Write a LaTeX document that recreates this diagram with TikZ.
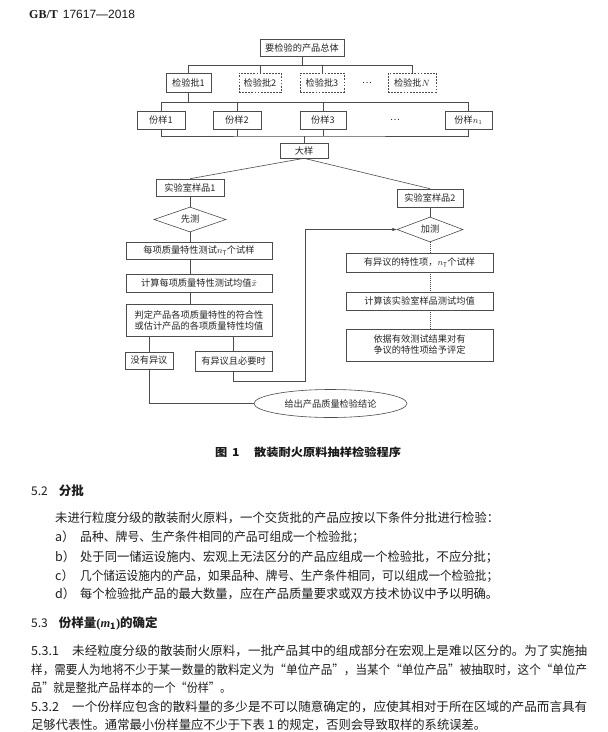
\documentclass[tikz,border=0pt]{standalone}
\usepackage{fontspec}
\usepackage{graphicx}
\setmainfont{Noto Sans CJK SC}
\newfontfamily\latinsans{Liberation Sans}
\newfontfamily\latinserif{Liberation Serif}
\usetikzlibrary{shapes.geometric,arrows.meta}
\newcommand\diagfont{\fontsize{9.2pt}{11pt}\selectfont}
\newcommand\bodyfont{\fontsize{12.5pt}{15pt}\selectfont}
\newcommand\bodyline[5]{\node[bodytext] (#1) at (#2,#3) {\resizebox{#4pt}{\height}{#5}};}
\begin{document}
\begin{tikzpicture}[x=1pt,y=-1pt,
  box/.style={draw=black!70, line width=0.6pt, fill=white, inner sep=0pt, font=\diagfont, text=black!85},
  dbox/.style={box, dash pattern=on 1.8pt off 1.3pt},
  dia/.style={box, diamond, aspect=2.7},
  ell/.style={box, ellipse},
  plain/.style={inner sep=0pt, font=\diagfont, text=black!85},
  conn/.style={draw=black!70, line width=0.6pt},
  dotconn/.style={conn, dash pattern=on 1pt off 1pt},
  arr/.style={-{Stealth[length=5pt,width=3.4pt]}},
  bodytext/.style={anchor=west, inner sep=0pt, font=\bodyfont, text=black!88},
]
\useasboundingbox (0,0) rectangle (608,732);
\fill[white] (0,0) rectangle (608,732);

% header
\node[anchor=west, inner sep=0pt, font=\fontsize{12pt}{14pt}\selectfont, text=black!90] (hdr) at (29,14.5)
  {{\latinserif\bfseries GB/T}\hspace{5pt}{\latinsans 17617—2018}};

% top level
\node[box, minimum width=84pt, minimum height=17pt] (top) at (302,47.5) {要检验的产品总体};
\node[box, minimum width=45pt, minimum height=19pt] (lot1) at (188.5,82.5) {检验批1};
\node[dbox, minimum width=42pt, minimum height=19pt] (lot2) at (260,82.5) {检验批2};
\node[dbox, minimum width=44pt, minimum height=19pt] (lot3) at (322,82.5) {检验批3};
\node[plain] (lotdots) at (367,82.5) {…};
\node[dbox, minimum width=48pt, minimum height=19pt] (lotN) at (412,82.5) {检验批$N$};

\draw[conn] (top.south) -- ++(0,8.5) coordinate (b1);
\draw[conn] (lot1.north) |- (b1) -| (lotN.north);
\draw[conn] (lot2.north) -- (lot2.north |- b1);
\draw[conn] (lot3.north) -- (lot3.north |- b1);

% samples
\node[box, minimum width=48pt, minimum height=18pt] (s1) at (161,120) {份样1};
\node[box, minimum width=48pt, minimum height=18pt] (s2) at (237,120) {份样2};
\node[box, minimum width=46pt, minimum height=18pt] (s3) at (323,120) {份样3};
\node[plain] (sdots) at (395,120) {…};
\node[box, minimum width=47pt, minimum height=18pt] (sn) at (468.5,120) {份样$n_1$};

\draw[conn] (lot1.south) -- ++(0,10) coordinate (b2);
\draw[conn] (s1.north) |- (b2) -| (sn.north);
\draw[conn] (s2.north) -- (s2.north |- b2);
\draw[conn] (s3.north) -- (s3.north |- b2);

\node[box, minimum width=48pt, minimum height=15pt] (big) at (304,150.5) {大样};
\coordinate (b3) at (304,136);
\draw[conn] (s1.south) |- (b3) -| (sn.south);
\draw[conn] (s2.south) -- (s2.south |- b3);
\draw[conn] (s3.south) -- (s3.south |- b3);
\draw[conn] (b3) -- (big.north);

% laboratory samples
\node[box, minimum width=68pt, minimum height=17pt] (lab1) at (190,187.5) {实验室样品1};
\node[box, minimum width=66pt, minimum height=18pt] (lab2) at (430,198) {实验室样品2};
\draw[conn] (big.south) -- (lab1.north);
\draw[conn] (big.south) -- (lab2.north);

\node[dia, minimum width=72pt, minimum height=25pt] (q1) at (190,219.5) {先测};
\node[dia, minimum width=66pt, minimum height=25pt] (q2) at (430,229.5) {加测};
\draw[conn] (lab1.south) -- (q1.north);
\draw[conn] (lab2.south) -- (q2.north);

% left column
\node[box, minimum width=146pt, minimum height=17pt] (L1) at (199,250.5) {每项质量特性测试$n_{\mathrm{T}}$个试样};
\node[box, minimum width=146pt, minimum height=18pt] (L2) at (199,283) {计算每项质量特性测试均值$\bar{x}$};
\node[box, minimum width=146pt, minimum height=32pt, align=center] (L3) at (199,320)
  {判定产品各项质量特性的符合性\\或估计产品的各项质量特性均值};
\draw[conn] (q1.south) -- (q1.south |- L1.north);
\draw[conn] (q1.south |- L1.south) -- (q1.south |- L2.north);
\draw[conn] (q1.south |- L2.south) -- (q1.south |- L3.north);

% right column
\node[box, minimum width=147pt, minimum height=19pt] (R1) at (419.5,262.5) {有异议的特性项，$n_{\mathrm{T}}$个试样};
\node[box, minimum width=147pt, minimum height=18pt] (R2) at (419.5,301) {计算该实验室样品测试均值};
\node[box, minimum width=147pt, minimum height=32pt, align=center] (R3) at (419.5,345)
  {依据有效测试结果对有\\争议的特性项给予评定};
\draw[dotconn] (q2.south) -- (q2.south |- R1.north);
\draw[dotconn] (q2.south |- R1.south) -- (q2.south |- R2.north);
\draw[dotconn] (q2.south |- R2.south) -- (q2.south |- R3.north);

% decisions
\node[box, minimum width=48pt, minimum height=17pt] (n1) at (149,360.5) {没有异议};
\node[box, minimum width=77pt, minimum height=20pt] (n2) at (233.5,361) {有异议且必要时};
\draw[conn] (n1.north |- L3.south) -- (n1.north);
\draw[conn] (n2.north |- L3.south) -- (n2.north);

\node[ell, minimum width=153pt, minimum height=28pt] (concl) at (330.5,403.5) {给出产品质量检验结论};
\coordinate (turn) at (305,381);
\draw[conn, arr] (n2.south) |- (turn) |- (q2.west);
\draw[conn] (n1.south) |- (concl.west);

% caption
\node[inner sep=0pt, text=black!90] (cap) at (308,452)
  {\resizebox{186pt}{\height}{\fontsize{11pt}{13pt}\selectfont\bfseries 图\hspace{0.4em}1\hspace{1.2em}散装耐火原料抽样检验程序}};

% text
\node[bodytext] (h52) at (31,491) {{\fontsize{12pt}{14pt}\selectfont 5.2}\hspace{11pt}{\bfseries 分批}};
\bodyline{t1}{55}{518}{444}{未进行粒度分级的散装耐火原料，一个交货批的产品应按以下条件分批进行检验：}
\node[bodytext] (la) at (55,537) {a）};
\bodyline{ta}{80}{537}{284}{品种、牌号、生产条件相同的产品可组成一个检验批；}
\node[bodytext] (lb) at (55,557) {b）};
\bodyline{tb}{80}{557}{418}{处于同一储运设施内、宏观上无法区分的产品应组成一个检验批，不应分批；}
\node[bodytext] (lc) at (55,576) {c）};
\bodyline{tc}{80}{576}{418}{几个储运设施内的产品，如果品种、牌号、生产条件相同，可以组成一个检验批；}
\node[bodytext] (ld) at (55,594) {d）};
\bodyline{td}{80}{594}{418}{每个检验批产品的最大数量，应在产品质量要求或双方技术协议中予以明确。}

\node[bodytext] (h53) at (31,623) {{\fontsize{12pt}{14pt}\selectfont 5.3}\hspace{11pt}{\bfseries 份样量{\latinserif(}{\latinserif\bfseries\itshape m}$_{\mathbf{1}}${\latinserif)}的确定}};

\node[bodytext] (l531) at (31,651) {5.3.1};
\bodyline{t531}{72}{651}{515}{未经粒度分级的散装耐火原料，一批产品其中的组成部分在宏观上是难以区分的。为了实施抽}
\bodyline{t531b}{31}{670}{556}{样，需要人为地将不少于某一数量的散料定义为“单位产品”，当某个“单位产品”被抽取时，这个“单位产}
\bodyline{t531c}{31}{688}{200}{品”就是整批产品样本的一个“份样”。}
\node[bodytext] (l532) at (31,707) {5.3.2};
\bodyline{t532}{72}{707}{515}{一个份样应包含的散料量的多少是不可以随意确定的，应使其相对于所在区域的产品而言具有}
\bodyline{t532b}{31}{725}{455}{足够代表性。通常最小份样量应不少于下表 1 的规定，否则会导致取样的系统误差。}
\end{tikzpicture}
\end{document}
